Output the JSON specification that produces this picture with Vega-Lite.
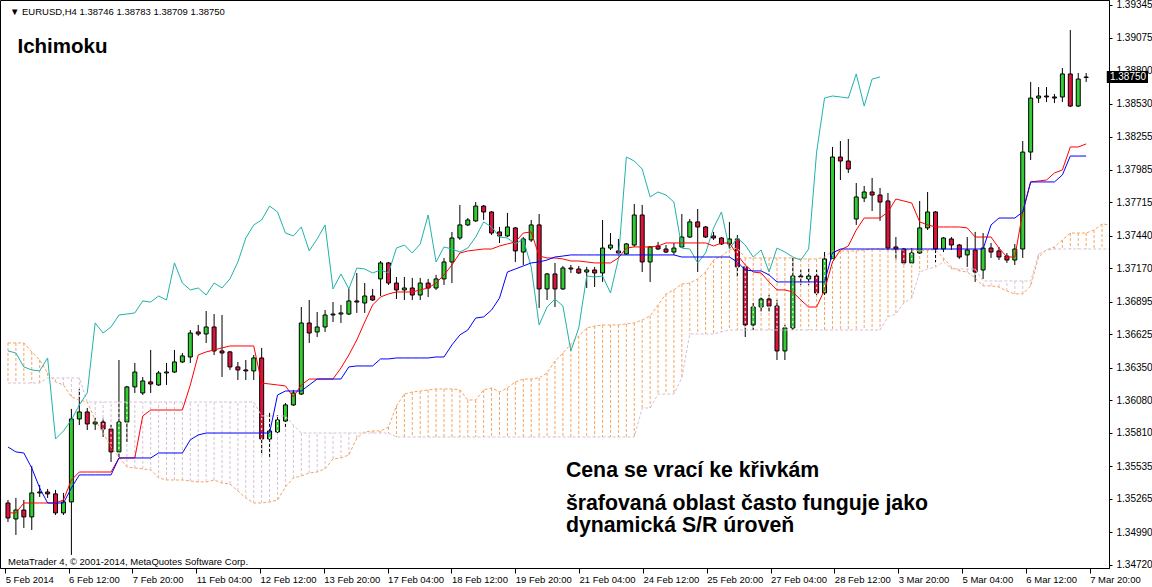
{
"$schema":"https://vega.github.io/schema/vega-lite/v6.json",
"width":1109,"height":568,
"autosize":{"type":"none"},
"padding":{"left":0,"top":0,"right":43,"bottom":19},
"background":"white",
"config":{"view":{"stroke":"black","strokeWidth":1},"font":"Liberation Sans","axis":{"labelOverlap":false,"labelFlush":false,"labelBound":false,"grid":false,"title":null,"labelColor":"black","tickColor":"black","domainColor":"black","labelFont":"Liberation Sans"}},
"resolve":{"axis":{"y":"independent"}},
"data":{"values":[
{"i":0,"o":1.35231,"h":1.35256,"l":1.35074,"c":1.35107,"t":1.35149,"k":1.35694,"ch":1.36487,"a":1.36553,"b":1.36222},
{"i":1,"o":1.35099,"h":1.35273,"l":1.34967,"c":1.35173,"t":1.35149,"k":1.35653,"ch":1.36470,"a":1.36553,"b":1.36222},
{"i":2,"o":1.35173,"h":1.35256,"l":1.35025,"c":1.35116,"t":1.35231,"k":1.35644,"ch":1.36355,"a":1.36553,"b":1.36222},
{"i":3,"o":1.35116,"h":1.35537,"l":1.35008,"c":1.35314,"t":1.35231,"k":1.35520,"ch":1.36330,"a":1.36479,"b":1.36222},
{"i":4,"o":1.35314,"h":1.35380,"l":1.35281,"c":1.35322,"t":1.35231,"k":1.35355,"ch":1.36322,"a":1.36412,"b":1.36222},
{"i":5,"o":1.35322,"h":1.35347,"l":1.35273,"c":1.35306,"t":1.35231,"k":1.35231,"ch":1.36429,"a":1.36305,"b":1.36264},
{"i":6,"o":1.35306,"h":1.35339,"l":1.35132,"c":1.35149,"t":1.35231,"k":1.35231,"ch":1.35760,"a":1.36231,"b":1.36264},
{"i":7,"o":1.35149,"h":1.35314,"l":1.35132,"c":1.35240,"t":1.35256,"k":1.35231,"ch":1.35826,"a":1.36206,"b":1.36264},
{"i":8,"o":1.35240,"h":1.36008,"l":1.34802,"c":1.35925,"t":1.35421,"k":1.35355,"ch":1.35917,"a":1.36107,"b":1.36264},
{"i":9,"o":1.35925,"h":1.36173,"l":1.35875,"c":1.35983,"t":1.35487,"k":1.35463,"ch":1.36041,"a":1.36082,"b":1.36264},
{"i":10,"o":1.35983,"h":1.36016,"l":1.35834,"c":1.35884,"t":1.35487,"k":1.35463,"ch":1.36140,"a":1.36065,"b":1.36065},
{"i":11,"o":1.35884,"h":1.35933,"l":1.35834,"c":1.35900,"t":1.35487,"k":1.35463,"ch":1.36718,"a":1.35917,"b":1.36065},
{"i":12,"o":1.35900,"h":1.35933,"l":1.35776,"c":1.35842,"t":1.35487,"k":1.35463,"ch":1.36635,"a":1.35809,"b":1.36065},
{"i":13,"o":1.35842,"h":1.35875,"l":1.35570,"c":1.35653,"t":1.35487,"k":1.35463,"ch":1.36685,"a":1.35694,"b":1.36065},
{"i":14,"o":1.35653,"h":1.36412,"l":1.35611,"c":1.35900,"t":1.35603,"k":1.35603,"ch":1.36784,"a":1.35611,"b":1.36065},
{"i":15,"o":1.35900,"h":1.36198,"l":1.35735,"c":1.36190,"t":1.35603,"k":1.35603,"ch":1.36792,"a":1.35529,"b":1.36065},
{"i":16,"o":1.36190,"h":1.36388,"l":1.36140,"c":1.36313,"t":1.35603,"k":1.35603,"ch":1.36801,"a":1.35520,"b":1.36065},
{"i":17,"o":1.36140,"h":1.36272,"l":1.36123,"c":1.36239,"t":1.35950,"k":1.35603,"ch":1.36900,"a":1.35513,"b":1.36065},
{"i":18,"o":1.36231,"h":1.36495,"l":1.36140,"c":1.36214,"t":1.35999,"k":1.35603,"ch":1.36891,"a":1.35504,"b":1.36065},
{"i":19,"o":1.36206,"h":1.36322,"l":1.36198,"c":1.36305,"t":1.35999,"k":1.35644,"ch":1.36941,"a":1.35438,"b":1.36065},
{"i":20,"o":1.36305,"h":1.36388,"l":1.36206,"c":1.36313,"t":1.35999,"k":1.35644,"ch":1.36908,"a":1.35421,"b":1.36065},
{"i":21,"o":1.36313,"h":1.36495,"l":1.36305,"c":1.36396,"t":1.35999,"k":1.35644,"ch":1.37214,"a":1.35421,"b":1.36065},
{"i":22,"o":1.36396,"h":1.36470,"l":1.36388,"c":1.36446,"t":1.35999,"k":1.35644,"ch":1.37048,"a":1.35421,"b":1.36065},
{"i":23,"o":1.36437,"h":1.36660,"l":1.36388,"c":1.36635,"t":1.36206,"k":1.35753,"ch":1.36991,"a":1.35413,"b":1.36065},
{"i":24,"o":1.36644,"h":1.36702,"l":1.36611,"c":1.36627,"t":1.36454,"k":1.35793,"ch":1.37007,"a":1.35405,"b":1.36065},
{"i":25,"o":1.36627,"h":1.36817,"l":1.36553,"c":1.36685,"t":1.36479,"k":1.35809,"ch":1.36949,"a":1.35405,"b":1.36065},
{"i":26,"o":1.36685,"h":1.36792,"l":1.36454,"c":1.36487,"t":1.36495,"k":1.35809,"ch":1.37048,"a":1.35421,"b":1.36065},
{"i":27,"o":1.36487,"h":1.36784,"l":1.36272,"c":1.36470,"t":1.36512,"k":1.35809,"ch":1.37007,"a":1.35396,"b":1.36065},
{"i":28,"o":1.36479,"h":1.36487,"l":1.36330,"c":1.36355,"t":1.36528,"k":1.35809,"ch":1.37082,"a":1.35388,"b":1.36065},
{"i":29,"o":1.36355,"h":1.36396,"l":1.36247,"c":1.36330,"t":1.36528,"k":1.35809,"ch":1.37222,"a":1.35330,"b":1.36065},
{"i":30,"o":1.36330,"h":1.36412,"l":1.36247,"c":1.36322,"t":1.36528,"k":1.35809,"ch":1.37420,"a":1.35273,"b":1.36065},
{"i":31,"o":1.36322,"h":1.36454,"l":1.36247,"c":1.36429,"t":1.36528,"k":1.35809,"ch":1.37528,"a":1.35231,"b":1.36065},
{"i":32,"o":1.36429,"h":1.36512,"l":1.35628,"c":1.35760,"t":1.36222,"k":1.35809,"ch":1.37569,"a":1.35231,"b":1.35950},
{"i":33,"o":1.35760,"h":1.35975,"l":1.35603,"c":1.35826,"t":1.36214,"k":1.35809,"ch":1.37684,"a":1.35240,"b":1.35950},
{"i":34,"o":1.35818,"h":1.35958,"l":1.35809,"c":1.35917,"t":1.36206,"k":1.36123,"ch":1.37635,"a":1.35256,"b":1.35950},
{"i":35,"o":1.35908,"h":1.36057,"l":1.35859,"c":1.36041,"t":1.36198,"k":1.36156,"ch":1.37461,"a":1.35363,"b":1.35950},
{"i":36,"o":1.36041,"h":1.36165,"l":1.36032,"c":1.36140,"t":1.36107,"k":1.36156,"ch":1.37437,"a":1.35438,"b":1.35875},
{"i":37,"o":1.36131,"h":1.36850,"l":1.36123,"c":1.36718,"t":1.36206,"k":1.36156,"ch":1.37511,"a":1.35454,"b":1.35809},
{"i":38,"o":1.36718,"h":1.36908,"l":1.36553,"c":1.36635,"t":1.36255,"k":1.36206,"ch":1.37313,"a":1.35479,"b":1.35809},
{"i":39,"o":1.36644,"h":1.36809,"l":1.36602,"c":1.36685,"t":1.36255,"k":1.36255,"ch":1.37412,"a":1.35487,"b":1.35809},
{"i":40,"o":1.36685,"h":1.36825,"l":1.36644,"c":1.36784,"t":1.36255,"k":1.36255,"ch":1.37528,"a":1.35513,"b":1.35809},
{"i":41,"o":1.36784,"h":1.36891,"l":1.36726,"c":1.36792,"t":1.36255,"k":1.36255,"ch":1.36999,"a":1.35595,"b":1.35809},
{"i":42,"o":1.36792,"h":1.36867,"l":1.36718,"c":1.36801,"t":1.36346,"k":1.36255,"ch":1.37123,"a":1.35603,"b":1.35809},
{"i":43,"o":1.36792,"h":1.36999,"l":1.36784,"c":1.36900,"t":1.36454,"k":1.36355,"ch":1.36999,"a":1.35628,"b":1.35809},
{"i":44,"o":1.36900,"h":1.37131,"l":1.36801,"c":1.36891,"t":1.36578,"k":1.36363,"ch":1.37172,"a":1.35768,"b":1.35809},
{"i":45,"o":1.36883,"h":1.37048,"l":1.36801,"c":1.36941,"t":1.36726,"k":1.36363,"ch":1.37164,"a":1.35818,"b":1.35809},
{"i":46,"o":1.36941,"h":1.36999,"l":1.36900,"c":1.36908,"t":1.36867,"k":1.36363,"ch":1.37131,"a":1.35826,"b":1.35809},
{"i":47,"o":1.37082,"h":1.37230,"l":1.36941,"c":1.37214,"t":1.36933,"k":1.36421,"ch":1.37156,"a":1.35826,"b":1.35809},
{"i":48,"o":1.37214,"h":1.37222,"l":1.37032,"c":1.37048,"t":1.36958,"k":1.36421,"ch":1.37131,"a":1.35859,"b":1.35809},
{"i":49,"o":1.37048,"h":1.37098,"l":1.36916,"c":1.36991,"t":1.36974,"k":1.36429,"ch":1.37337,"a":1.36032,"b":1.35776},
{"i":50,"o":1.36991,"h":1.37098,"l":1.36908,"c":1.37007,"t":1.36974,"k":1.36429,"ch":1.37362,"a":1.36131,"b":1.35776},
{"i":51,"o":1.37007,"h":1.37090,"l":1.36908,"c":1.36949,"t":1.36974,"k":1.36429,"ch":1.37296,"a":1.36148,"b":1.35776},
{"i":52,"o":1.36949,"h":1.37090,"l":1.36908,"c":1.37048,"t":1.36991,"k":1.36429,"ch":1.37371,"a":1.36156,"b":1.35776},
{"i":53,"o":1.37048,"h":1.37082,"l":1.36933,"c":1.37007,"t":1.37007,"k":1.36429,"ch":1.37610,"a":1.36165,"b":1.35776},
{"i":54,"o":1.37007,"h":1.37115,"l":1.36991,"c":1.37082,"t":1.37048,"k":1.36437,"ch":1.37222,"a":1.36173,"b":1.35776},
{"i":55,"o":1.37082,"h":1.37255,"l":1.37032,"c":1.37222,"t":1.37115,"k":1.36437,"ch":1.37346,"a":1.36173,"b":1.35776},
{"i":56,"o":1.37222,"h":1.37470,"l":1.37048,"c":1.37420,"t":1.37197,"k":1.36537,"ch":1.37329,"a":1.36173,"b":1.35776},
{"i":57,"o":1.37420,"h":1.37693,"l":1.37404,"c":1.37528,"t":1.37296,"k":1.36619,"ch":1.37304,"a":1.36165,"b":1.35776},
{"i":58,"o":1.37528,"h":1.37585,"l":1.37519,"c":1.37569,"t":1.37313,"k":1.36660,"ch":1.37337,"a":1.36082,"b":1.35776},
{"i":59,"o":1.37561,"h":1.37717,"l":1.37553,"c":1.37684,"t":1.37321,"k":1.36759,"ch":1.37428,"a":1.36082,"b":1.35776},
{"i":60,"o":1.37684,"h":1.37693,"l":1.37569,"c":1.37635,"t":1.37329,"k":1.36768,"ch":1.37553,"a":1.36165,"b":1.35776},
{"i":61,"o":1.37635,"h":1.37643,"l":1.37445,"c":1.37461,"t":1.37329,"k":1.36825,"ch":1.37511,"a":1.36181,"b":1.35776},
{"i":62,"o":1.37470,"h":1.37511,"l":1.37379,"c":1.37437,"t":1.37354,"k":1.36924,"ch":1.37428,"a":1.36148,"b":1.35776},
{"i":63,"o":1.37437,"h":1.37627,"l":1.37428,"c":1.37511,"t":1.37371,"k":1.37139,"ch":1.37420,"a":1.36181,"b":1.35776},
{"i":64,"o":1.37503,"h":1.37511,"l":1.37222,"c":1.37313,"t":1.37387,"k":1.37164,"ch":1.37371,"a":1.36231,"b":1.35776},
{"i":65,"o":1.37304,"h":1.37428,"l":1.37197,"c":1.37412,"t":1.37461,"k":1.37189,"ch":1.37412,"a":1.36255,"b":1.35776},
{"i":66,"o":1.37404,"h":1.37569,"l":1.37387,"c":1.37528,"t":1.37470,"k":1.37214,"ch":1.37181,"a":1.36255,"b":1.35776},
{"i":67,"o":1.37528,"h":1.37618,"l":1.36842,"c":1.36999,"t":1.37271,"k":1.37222,"ch":1.36702,"a":1.36264,"b":1.35776},
{"i":68,"o":1.36999,"h":1.37131,"l":1.36908,"c":1.37123,"t":1.37255,"k":1.37238,"ch":1.36850,"a":1.36305,"b":1.35776},
{"i":69,"o":1.37123,"h":1.37214,"l":1.36850,"c":1.36999,"t":1.37255,"k":1.37263,"ch":1.36916,"a":1.36404,"b":1.35776},
{"i":70,"o":1.36999,"h":1.37189,"l":1.36991,"c":1.37172,"t":1.37247,"k":1.37271,"ch":1.36858,"a":1.36470,"b":1.35776},
{"i":71,"o":1.37172,"h":1.37197,"l":1.37131,"c":1.37164,"t":1.37230,"k":1.37280,"ch":1.36487,"a":1.36545,"b":1.35776},
{"i":72,"o":1.37164,"h":1.37189,"l":1.37123,"c":1.37131,"t":1.37230,"k":1.37280,"ch":1.36677,"a":1.36611,"b":1.35776},
{"i":73,"o":1.37139,"h":1.37181,"l":1.37007,"c":1.37156,"t":1.37222,"k":1.37280,"ch":1.37106,"a":1.36677,"b":1.35776},
{"i":74,"o":1.37156,"h":1.37181,"l":1.37015,"c":1.37131,"t":1.37214,"k":1.37280,"ch":1.37098,"a":1.36693,"b":1.35776},
{"i":75,"o":1.37131,"h":1.37569,"l":1.37057,"c":1.37337,"t":1.37214,"k":1.37280,"ch":1.37106,"a":1.36702,"b":1.35776},
{"i":76,"o":1.37337,"h":1.37461,"l":1.37321,"c":1.37362,"t":1.37214,"k":1.37280,"ch":1.36966,"a":1.36702,"b":1.35776},
{"i":77,"o":1.37313,"h":1.37412,"l":1.37288,"c":1.37296,"t":1.37255,"k":1.37280,"ch":1.37247,"a":1.36702,"b":1.35776},
{"i":78,"o":1.37288,"h":1.37379,"l":1.37280,"c":1.37371,"t":1.37337,"k":1.37280,"ch":1.38089,"a":1.36710,"b":1.35776},
{"i":79,"o":1.37362,"h":1.37701,"l":1.37346,"c":1.37610,"t":1.37346,"k":1.37280,"ch":1.38056,"a":1.36718,"b":1.35776},
{"i":80,"o":1.37610,"h":1.37693,"l":1.37139,"c":1.37222,"t":1.37346,"k":1.37280,"ch":1.37990,"a":1.36743,"b":1.36016},
{"i":81,"o":1.37222,"h":1.37354,"l":1.37057,"c":1.37346,"t":1.37346,"k":1.37280,"ch":1.37759,"a":1.36776,"b":1.36016},
{"i":82,"o":1.37354,"h":1.37387,"l":1.37321,"c":1.37329,"t":1.37354,"k":1.37280,"ch":1.37800,"a":1.36867,"b":1.36131},
{"i":83,"o":1.37329,"h":1.37362,"l":1.37296,"c":1.37304,"t":1.37379,"k":1.37280,"ch":1.37775,"a":1.36958,"b":1.36131},
{"i":84,"o":1.37304,"h":1.37379,"l":1.37280,"c":1.37337,"t":1.37379,"k":1.37280,"ch":1.37717,"a":1.36991,"b":1.36131},
{"i":85,"o":1.37346,"h":1.37618,"l":1.37337,"c":1.37428,"t":1.37379,"k":1.37263,"ch":1.37337,"a":1.37040,"b":1.36264},
{"i":86,"o":1.37428,"h":1.37577,"l":1.37420,"c":1.37553,"t":1.37379,"k":1.37263,"ch":1.37329,"a":1.37048,"b":1.36627},
{"i":87,"o":1.37553,"h":1.37660,"l":1.37139,"c":1.37511,"t":1.37379,"k":1.37263,"ch":1.37214,"a":1.37082,"b":1.36627},
{"i":88,"o":1.37511,"h":1.37519,"l":1.37420,"c":1.37428,"t":1.37379,"k":1.37263,"ch":1.37296,"a":1.37139,"b":1.36627},
{"i":89,"o":1.37437,"h":1.37470,"l":1.37404,"c":1.37420,"t":1.37354,"k":1.37263,"ch":1.37503,"a":1.37238,"b":1.36627},
{"i":90,"o":1.37420,"h":1.37428,"l":1.37362,"c":1.37371,"t":1.37379,"k":1.37263,"ch":1.37635,"a":1.37271,"b":1.36644},
{"i":91,"o":1.37371,"h":1.37553,"l":1.37337,"c":1.37412,"t":1.37379,"k":1.37263,"ch":1.37329,"a":1.37321,"b":1.36660},
{"i":92,"o":1.37412,"h":1.37445,"l":1.37098,"c":1.37181,"t":1.37280,"k":1.37222,"ch":1.37420,"a":1.37337,"b":1.36660},
{"i":93,"o":1.37181,"h":1.37189,"l":1.36602,"c":1.36702,"t":1.37197,"k":1.37156,"ch":1.37362,"a":1.37255,"b":1.36660},
{"i":94,"o":1.36702,"h":1.36883,"l":1.36660,"c":1.36850,"t":1.37139,"k":1.37148,"ch":1.37263,"a":1.37255,"b":1.36660},
{"i":95,"o":1.36850,"h":1.36933,"l":1.36809,"c":1.36916,"t":1.37131,"k":1.37148,"ch":1.37321,"a":1.37255,"b":1.36660},
{"i":96,"o":1.36916,"h":1.36949,"l":1.36809,"c":1.36858,"t":1.37057,"k":1.37115,"ch":1.37139,"a":1.37255,"b":1.36660},
{"i":97,"o":1.36858,"h":1.36908,"l":1.36412,"c":1.36487,"t":1.36991,"k":1.37057,"ch":1.37337,"a":1.37255,"b":1.36660},
{"i":98,"o":1.36487,"h":1.36702,"l":1.36412,"c":1.36677,"t":1.36991,"k":1.37057,"ch":1.37304,"a":1.37255,"b":1.36660},
{"i":99,"o":1.36677,"h":1.37255,"l":1.36660,"c":1.37106,"t":1.36974,"k":1.37057,"ch":1.37263,"a":1.37255,"b":1.36660},
{"i":100,"o":1.37106,"h":1.37156,"l":1.37032,"c":1.37098,"t":1.36908,"k":1.37057,"ch":1.37238,"a":1.37247,"b":1.36660},
{"i":101,"o":1.37082,"h":1.37172,"l":1.37032,"c":1.37106,"t":1.36850,"k":1.37057,"ch":1.37329,"a":1.37247,"b":1.36660},
{"i":102,"o":1.37106,"h":1.37156,"l":1.36949,"c":1.36966,"t":1.36850,"k":1.37057,"ch":1.38130,"a":1.37247,"b":1.36660},
{"i":103,"o":1.36966,"h":1.37304,"l":1.36949,"c":1.37247,"t":1.36991,"k":1.37057,"ch":1.38576,"a":1.37263,"b":1.36660},
{"i":104,"o":1.37247,"h":1.38172,"l":1.37238,"c":1.38089,"t":1.37222,"k":1.37296,"ch":1.38593,"a":1.37313,"b":1.36660},
{"i":105,"o":1.38089,"h":1.38221,"l":1.37899,"c":1.38056,"t":1.37321,"k":1.37329,"ch":1.38585,"a":1.37313,"b":1.36660},
{"i":106,"o":1.38056,"h":1.38238,"l":1.37957,"c":1.37990,"t":1.37354,"k":1.37329,"ch":1.38576,"a":1.37313,"b":1.36660},
{"i":107,"o":1.37577,"h":1.37874,"l":1.37528,"c":1.37759,"t":1.37486,"k":1.37329,"ch":1.38775,"a":1.37313,"b":1.36660},
{"i":108,"o":1.37750,"h":1.37850,"l":1.37717,"c":1.37800,"t":1.37585,"k":1.37329,"ch":1.38510,"a":1.37321,"b":1.36660},
{"i":109,"o":1.37800,"h":1.37916,"l":1.37643,"c":1.37775,"t":1.37585,"k":1.37329,"ch":1.38733,"a":1.37329,"b":1.36660},
{"i":110,"o":1.37775,"h":1.37833,"l":1.37561,"c":1.37717,"t":1.37585,"k":1.37329,"ch":1.38750,"a":1.37329,"b":1.36660},
{"i":111,"o":1.37726,"h":1.37792,"l":1.37321,"c":1.37337,"t":1.37635,"k":1.37329,"a":1.37321,"b":1.36768},
{"i":112,"o":1.37346,"h":1.37428,"l":1.37238,"c":1.37329,"t":1.37742,"k":1.37329,"a":1.37321,"b":1.36792},
{"i":113,"o":1.37329,"h":1.37337,"l":1.37197,"c":1.37214,"t":1.37726,"k":1.37329,"a":1.37321,"b":1.36883},
{"i":114,"o":1.37214,"h":1.37337,"l":1.37205,"c":1.37296,"t":1.37709,"k":1.37329,"a":1.37321,"b":1.36924},
{"i":115,"o":1.37296,"h":1.37726,"l":1.37288,"c":1.37503,"t":1.37553,"k":1.37329,"a":1.37313,"b":1.37139},
{"i":116,"o":1.37503,"h":1.37800,"l":1.37486,"c":1.37635,"t":1.37528,"k":1.37329,"a":1.37321,"b":1.37164},
{"i":117,"o":1.37635,"h":1.37643,"l":1.37222,"c":1.37329,"t":1.37511,"k":1.37329,"a":1.37321,"b":1.37181},
{"i":118,"o":1.37329,"h":1.37428,"l":1.37304,"c":1.37420,"t":1.37511,"k":1.37329,"a":1.37255,"b":1.37222},
{"i":119,"o":1.37412,"h":1.37428,"l":1.37321,"c":1.37362,"t":1.37511,"k":1.37329,"a":1.37181,"b":1.37164},
{"i":120,"o":1.37362,"h":1.37371,"l":1.37247,"c":1.37263,"t":1.37511,"k":1.37329,"a":1.37148,"b":1.37164},
{"i":121,"o":1.37280,"h":1.37428,"l":1.37181,"c":1.37321,"t":1.37503,"k":1.37329,"a":1.37139,"b":1.37164},
{"i":122,"o":1.37321,"h":1.37470,"l":1.37057,"c":1.37139,"t":1.37428,"k":1.37329,"a":1.37090,"b":1.37164},
{"i":123,"o":1.37156,"h":1.37461,"l":1.37082,"c":1.37337,"t":1.37428,"k":1.37329,"a":1.37024,"b":1.37065},
{"i":124,"o":1.37337,"h":1.37379,"l":1.37255,"c":1.37304,"t":1.37428,"k":1.37528,"a":1.37024,"b":1.37065},
{"i":125,"o":1.37313,"h":1.37346,"l":1.37238,"c":1.37263,"t":1.37337,"k":1.37585,"a":1.37015,"b":1.37065},
{"i":126,"o":1.37271,"h":1.37296,"l":1.37214,"c":1.37238,"t":1.37263,"k":1.37585,"a":1.36982,"b":1.37065},
{"i":127,"o":1.37238,"h":1.37371,"l":1.37197,"c":1.37329,"t":1.37263,"k":1.37585,"a":1.36958,"b":1.37065},
{"i":128,"o":1.37329,"h":1.38221,"l":1.37255,"c":1.38130,"t":1.37635,"k":1.37635,"a":1.36958,"b":1.37065},
{"i":129,"o":1.38130,"h":1.38709,"l":1.38064,"c":1.38576,"t":1.37883,"k":1.37883,"a":1.37024,"b":1.37065},
{"i":130,"o":1.38576,"h":1.38667,"l":1.38535,"c":1.38593,"t":1.37891,"k":1.37883,"a":1.37263,"b":1.37288},
{"i":131,"o":1.38593,"h":1.38667,"l":1.38543,"c":1.38585,"t":1.37899,"k":1.37883,"a":1.37321,"b":1.37321},
{"i":132,"o":1.38585,"h":1.38610,"l":1.38535,"c":1.38576,"t":1.37957,"k":1.37883,"a":1.37346,"b":1.37329},
{"i":133,"o":1.38585,"h":1.38824,"l":1.38543,"c":1.38775,"t":1.37982,"k":1.37941,"a":1.37404,"b":1.37329},
{"i":134,"o":1.38775,"h":1.39138,"l":1.38502,"c":1.38510,"t":1.38172,"k":1.38097,"a":1.37461,"b":1.37329},
{"i":135,"o":1.38510,"h":1.38783,"l":1.38502,"c":1.38733,"t":1.38172,"k":1.38097,"a":1.37461,"b":1.37329},
{"i":136,"o":1.38746,"h":1.38783,"l":1.38709,"c":1.38750,"t":1.38197,"k":1.38097,"a":1.37461,"b":1.37329},
{"i":137,"a":1.37486,"b":1.37329},
{"i":138,"a":1.37536,"b":1.37329},
{"i":139,"a":1.37528,"b":1.37329}
]},
"encoding":{"x":{"field":"i","type":"quantitative","scale":{"domain":[-0.375,138.25],"nice":false,"zero":false},
 "axis":{"orient":"bottom","title":null,"grid":false,"values":[-0.35,7.6375,15.6875,23.7375,31.7875,39.8375,47.8875,55.9375,63.9875,72.0375,80.0875,88.1375,96.1875,104.2375,112.2875,120.3375,128.3875,136.4375],
  "labelExpr":"round((datum.value+0.5)/8.05)==0?'5 Feb 2014':round((datum.value+0.5)/8.05)==1?'6 Feb 12:00':round((datum.value+0.5)/8.05)==2?'7 Feb 20:00':round((datum.value+0.5)/8.05)==3?'11 Feb 04:00':round((datum.value+0.5)/8.05)==4?'12 Feb 12:00':round((datum.value+0.5)/8.05)==5?'13 Feb 20:00':round((datum.value+0.5)/8.05)==6?'17 Feb 04:00':round((datum.value+0.5)/8.05)==7?'18 Feb 12:00':round((datum.value+0.5)/8.05)==8?'19 Feb 20:00':round((datum.value+0.5)/8.05)==9?'21 Feb 04:00':round((datum.value+0.5)/8.05)==10?'24 Feb 12:00':round((datum.value+0.5)/8.05)==11?'25 Feb 20:00':round((datum.value+0.5)/8.05)==12?'27 Feb 04:00':round((datum.value+0.5)/8.05)==13?'28 Feb 12:00':round((datum.value+0.5)/8.05)==14?'3 Mar 20:00':round((datum.value+0.5)/8.05)==15?'5 Mar 04:00':round((datum.value+0.5)/8.05)==16?'6 Mar 12:00':'7 Mar 20:00'",
  "labelAlign":"left","labelDx":1,"labelFlush":false,"labelOverlap":false,"labelBound":false,"tickSize":5,"labelPadding":1,
  "labelFont":"Liberation Sans","labelFontSize":9.5,"labelColor":"black","tickColor":"black","domainColor":"black"}}},
"layer":[
{"mark":{"type":"rule","strokeDash":[3,2],"strokeWidth":1,"clip":true},
 "encoding":{"y":{"field":"a","type":"quantitative","scale":{"domain":[1.34694,1.39386],"nice":false,"zero":false},
   "axis":{"orient":"right","title":null,"grid":false,"values":[1.3472,1.3499,1.35265,1.35535,1.3581,1.3608,1.3635,1.36625,1.36895,1.3717,1.3744,1.37715,1.37985,1.38255,1.3853,1.388,1.39075,1.39345],
   "format":".5f","tickSize":3,"labelPadding":4,"labelFlush":false,"labelOverlap":false,"labelBound":false,"labelFont":"Liberation Sans","labelFontSize":10,"labelColor":"black","tickColor":"black","domainColor":"black","labelBaseline":"middle"}},
  "y2":{"field":"b"},
  "color":{"condition":{"test":"datum.a >= datum.b","value":"#F4A460"},"value":"#D8BFD8"}}},
{"mark":{"type":"rule","color":"black","strokeWidth":1,"clip":true},
 "encoding":{"y":{"field":"l","type":"quantitative","scale":{"domain":[1.34694,1.39386],"nice":false,"zero":false},"axis":null},"y2":{"field":"h"}}},
{"mark":{"type":"bar","size":4,"stroke":"black","strokeWidth":1,"clip":true},
 "encoding":{"y":{"field":"o","type":"quantitative","scale":{"domain":[1.34694,1.39386],"nice":false,"zero":false},"axis":null},"y2":{"field":"c"},
  "fill":{"condition":{"test":"datum.c >= datum.o","value":"#32CD32"},"value":"#DC143C"}}},
{"mark":{"type":"rule","strokeDash":[2,3],"strokeDashOffset":2,"color":"white","strokeWidth":1,"clip":true},
 "encoding":{"y":{"field":"a","type":"quantitative","scale":{"domain":[1.34694,1.39386],"nice":false,"zero":false},"axis":null},"y2":{"field":"b"}}},
{"mark":{"type":"line","strokeDash":[3,2],"color":"#F4A460","strokeWidth":1,"clip":true},
 "encoding":{"y":{"field":"a","type":"quantitative","scale":{"domain":[1.34694,1.39386],"nice":false,"zero":false},"axis":null}}},
{"mark":{"type":"line","strokeDash":[3,2],"color":"#D8BFD8","strokeWidth":1,"clip":true},
 "encoding":{"y":{"field":"b","type":"quantitative","scale":{"domain":[1.34694,1.39386],"nice":false,"zero":false},"axis":null}}},
{"mark":{"type":"line","color":"#20B2AA","strokeWidth":1,"clip":true},
 "encoding":{"y":{"field":"ch","type":"quantitative","scale":{"domain":[1.34694,1.39386],"nice":false,"zero":false},"axis":null}}},
{"mark":{"type":"line","color":"#FF0000","strokeWidth":1,"clip":true},
 "encoding":{"y":{"field":"t","type":"quantitative","scale":{"domain":[1.34694,1.39386],"nice":false,"zero":false},"axis":null}}},
{"mark":{"type":"line","color":"#0000FF","strokeWidth":1,"clip":true},
 "encoding":{"y":{"field":"k","type":"quantitative","scale":{"domain":[1.34694,1.39386],"nice":false,"zero":false},"axis":null}}},
{"data":{"values":[{"x":0.25,"y":1.39262,"s":"▼ EURUSD,H4  1.38746 1.38783 1.38709 1.38750"},{"x":0,"y":1.34719,"s":"MetaTrader 4, © 2001-2014, MetaQuotes Software Corp."}]},
 "mark":{"type":"text","align":"left","baseline":"alphabetic","fontSize":9.5,"font":"Liberation Sans","color":"black"},
 "encoding":{"x":{"field":"x","type":"quantitative"},"y":{"field":"y","type":"quantitative","scale":{"domain":[1.34694,1.39386],"nice":false,"zero":false},"axis":null},"text":{"field":"s"}}},
{"data":{"values":[{"x":1.2,"y":1.38948,"s":"Ichimoku","f":20.5},{"x":70.375,"y":1.35446,"s":"Cena se vrací ke křivkám","f":21.3},{"x":70.375,"y":1.35173,"s":"šrafovaná oblast často funguje jako","f":21.3},{"x":70.375,"y":1.34992,"s":"dynamická S/R úroveň","f":21.3}]},
 "mark":{"type":"text","align":"left","baseline":"alphabetic","fontWeight":"bold","font":"Liberation Sans","color":"black"},
 "encoding":{"x":{"field":"x","type":"quantitative"},"y":{"field":"y","type":"quantitative","scale":{"domain":[1.34694,1.39386],"nice":false,"zero":false},"axis":null},"text":{"field":"s"},
  "size":{"field":"f","type":"quantitative","scale":null}}},
{"data":{"values":[{"x":138.6,"x2":143.8,"y":1.388,"y2":1.387}]},
 "mark":{"type":"rect","color":"black","clip":false},
 "encoding":{"x":{"field":"x","type":"quantitative"},"x2":{"field":"x2"},"y":{"field":"y","type":"quantitative","scale":{"domain":[1.34694,1.39386],"nice":false,"zero":false},"axis":null},"y2":{"field":"y2"}}},
{"data":{"values":[{"s":"1.38750","tx":139.0,"ty":1.3875}]},
 "mark":{"type":"text","align":"left","baseline":"middle","fontSize":10,"font":"Liberation Sans","color":"white","clip":false},
 "encoding":{"x":{"field":"tx","type":"quantitative"},"y":{"field":"ty","type":"quantitative","scale":{"domain":[1.34694,1.39386],"nice":false,"zero":false},"axis":null},"text":{"field":"s"}}}
]
}
